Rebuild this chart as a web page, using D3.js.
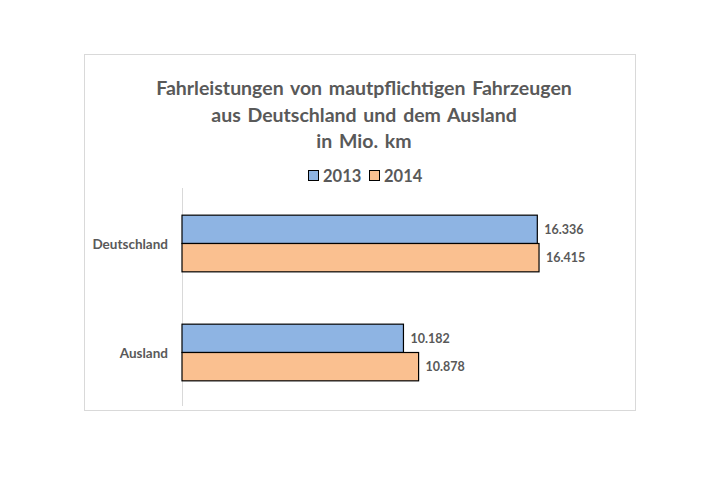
<!DOCTYPE html>
<html><head><meta charset="utf-8">
<script src="https://cdn.jsdelivr.net/npm/d3@7"></script>
<style>body{margin:0;background:#fff;} text{font-family:Lato,"Open Sans",sans-serif;font-weight:bold;fill:#595959;}</style>
</head><body>
<svg id="c" width="727" height="480"></svg>
<script>
const categories = ["Deutschland", "Ausland"];
const seriesNames = ["2013", "2014"];
const values2013 = [16336, 10182];
const values2014 = [16415, 10878];
const valueLabels2013 = ["16.336", "10.182"];
const valueLabels2014 = ["16.415", "10.878"];
const titleLines = ["Fahrleistungen von mautpflichtigen Fahrzeugen", "aus Deutschland  und dem Ausland", "in Mio. km"];
const colors = ["#8eb4e3", "#fac090"];

const svg = d3.select("#c");
svg.append("rect").attr("x", 84.5).attr("y", 54.5).attr("width", 551).attr("height", 356)
  .attr("fill", "#fff").attr("stroke", "#d9d9d9");

const title = svg.append("text").attr("text-anchor", "middle").style("font-size", "19.5px").style("word-spacing", "2px");
titleLines.forEach((t, i) => title.append("tspan").attr("x", 364).attr("y", 95 + i * 26.5).text(t));

// legend
const legend = svg.append("g").attr("transform", "translate(308,168)");
seriesNames.forEach((s, i) => {
  const g = legend.append("g").attr("transform", `translate(${i * 61},0)`);
  g.append("rect").attr("x", 0.5).attr("y", 2.5).attr("width", 10).attr("height", 10).attr("fill", colors[i]).attr("stroke", "#000");
  g.append("text").attr("x", 15).attr("y", 14).style("font-size", "16.5px").text(s);
});

const x = d3.scaleLinear().domain([0, 20000]).range([182, 617]);
const y = d3.scaleBand().domain(categories).range([189, 407]).paddingInner(0.48).paddingOuter(0.24);
const ySub = d3.scaleBand().domain(seriesNames).range([0, y.bandwidth()]);

svg.append("line").attr("x1", 182.5).attr("x2", 182.5).attr("y1", 188).attr("y2", 406).attr("stroke", "#d9d9d9");

const data = [];
categories.forEach((c, i) => {
  data.push({cat: c, s: "2013", v: values2013[i], lbl: valueLabels2013[i], col: colors[0]});
  data.push({cat: c, s: "2014", v: values2014[i], lbl: valueLabels2014[i], col: colors[1]});
});

svg.selectAll("rect.bar").data(data).join("rect").attr("class", "bar")
  .attr("x", x(0)).attr("y", d => y(d.cat) + ySub(d.s))
  .attr("width", d => x(d.v) - x(0)).attr("height", ySub.bandwidth())
  .attr("fill", d => d.col).attr("stroke", "#000").attr("stroke-width", 1.2);

svg.selectAll("text.val").data(data).join("text").attr("class", "val")
  .attr("x", d => x(d.v) + 7).attr("y", d => y(d.cat) + ySub(d.s) + ySub.bandwidth() / 2 + 4.5)
  .style("font-size", "12.5px").text(d => d.lbl);

svg.selectAll("text.cat").data(categories).join("text").attr("class", "cat")
  .attr("x", 168).attr("y", d => y(d) + y.bandwidth() / 2 + 5)
  .attr("text-anchor", "end")
  .style("font-size", "13.5px").text(d => d);
</script>
</body></html>
